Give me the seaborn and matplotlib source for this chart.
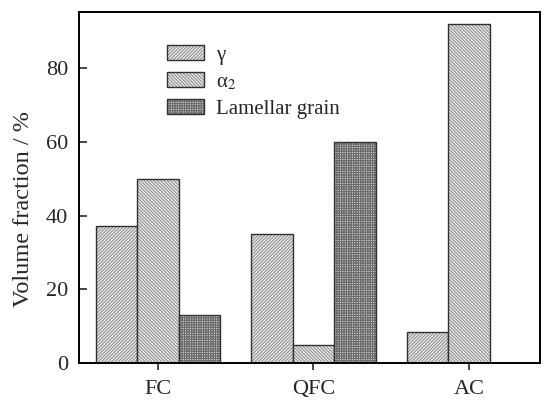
import matplotlib
matplotlib.use("Agg")
import matplotlib.pyplot as plt
import seaborn as sns
import pandas as pd
from matplotlib.patches import Patch

categories = ["FC", "QFC", "AC"]
phases = ["γ", "α$_2$", "Lamellar grain"]
gamma_vals = [37.2, 35.0, 8.5]
alpha2_vals = [50.0, 5.0, 92.0]
lamellar_vals = [13.0, 60.0, 0.0]

rows = []
for c, g, a, l in zip(categories, gamma_vals, alpha2_vals, lamellar_vals):
    rows.append((c, phases[0], g))
    rows.append((c, phases[1], a))
    rows.append((c, phases[2], l))
df = pd.DataFrame(rows, columns=["Condition", "Phase", "Value"])

sns.set_style("ticks")
plt.rcParams["font.family"] = ["Liberation Serif", "DejaVu Serif"]
plt.rcParams["mathtext.fontset"] = "stix"
plt.rcParams["hatch.linewidth"] = 0.8

fig = plt.figure(figsize=(5.47, 4.03), dpi=100)
ax = fig.add_axes([79/547, 1 - 363/403, (540-79)/547, (363-12)/403])

sns.barplot(data=df, x="Condition", y="Value", hue="Phase", order=categories,
            hue_order=phases, ax=ax, width=0.8, errorbar=None, legend=False)

hatches = ["/" * 10, "\\" * 10, "+" * 7]
faces = ["#eeeeee", "#eeeeee", "#d0d0d0"]
hatch_cols = ["#909090", "#909090", "#6a6a6a"]
for i, cont in enumerate(ax.containers):
    for bar in cont:
        bar.set_facecolor(faces[i])
        bar.set_hatch(hatches[i])
        bar.set_edgecolor("#303030")
        bar.set_linewidth(1.0)
        bar._hatch_color = matplotlib.colors.to_rgba(hatch_cols[i])

ax.set_ylim(0, 95.2)
ax.set_xlim(-0.506, 2.455)
ax.set_yticks([0, 20, 40, 60, 80])
ax.set_xlabel("")
ax.set_ylabel("Volume fraction / %", fontsize=17.5)
ax.yaxis.set_label_coords(-0.097, 0.44)
ax.tick_params(axis="y", direction="in", length=6, width=1.2, labelsize=16, pad=8)
ax.tick_params(axis="x", direction="out", length=5, width=1.2, labelsize=16, pad=7)
for s in ax.spines.values():
    s.set_linewidth(1.4)
    s.set_color("black")
    s.set_visible(True)

handles = [Patch(facecolor=faces[i], edgecolor="#303030", hatch=hatches[i], linewidth=1.0)
           for i in range(3)]
leg = ax.legend(handles, phases, loc="upper left", bbox_to_anchor=(0.191, 0.905),
                frameon=False, fontsize=15, handlelength=1.75, handleheight=0.7,
                labelspacing=0.35, handletextpad=0.6, borderpad=0, borderaxespad=0)
for i, h in enumerate(leg.legend_handles):
    h._hatch_color = matplotlib.colors.to_rgba(hatch_cols[i])

fig.savefig("out.png", dpi=100)
